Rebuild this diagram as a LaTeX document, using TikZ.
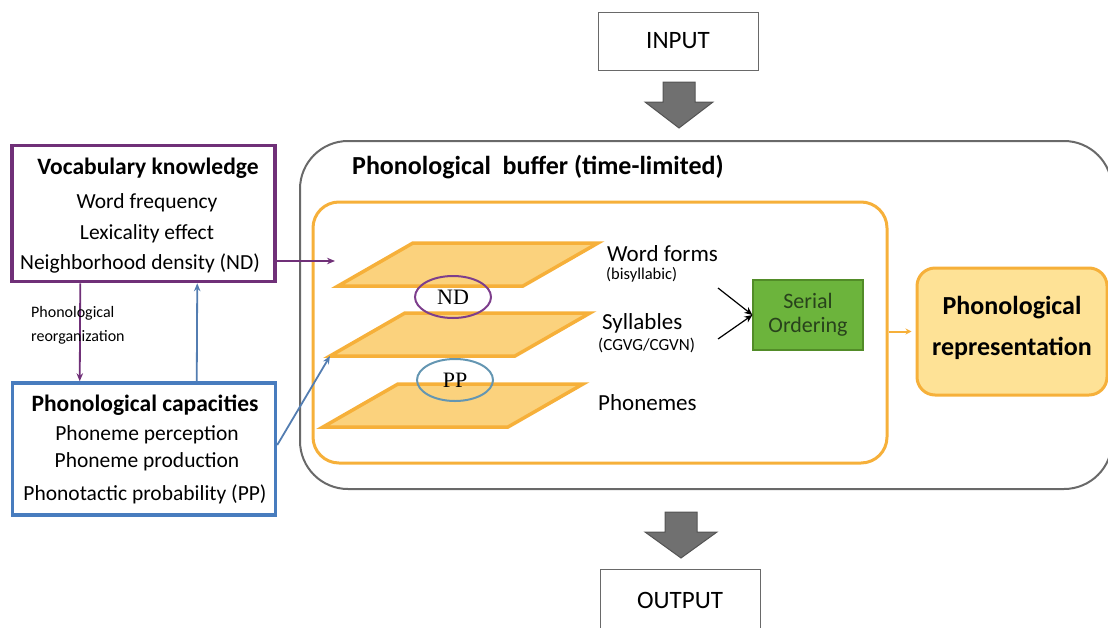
\documentclass[tikz,border=0pt]{standalone}
\usepackage{fontspec}
\setmainfont{Carlito}
\newfontfamily\romanfont{Liberation Serif}
\usepackage{tikz}
\usetikzlibrary{
	arrows.meta, shapes.geometric, positioning, calc
}
\definecolor{vocpurple}  {RGB}{112,  48, 120}
\definecolor{capblue}    {RGB}{ 72, 124, 190}
\definecolor{bufgray}    {RGB}{105, 105, 105}
\definecolor{arrowgray}  {RGB}{112, 112, 112}
\definecolor{layorange}  {RGB}{246, 176,  58}
\definecolor{layfill}    {RGB}{251, 210, 125}
\definecolor{repfill}    {RGB}{254, 226, 150}
\definecolor{serfill}    {RGB}{108, 180,  60}
\definecolor{serdraw}    {RGB}{ 82, 140,  40}
\definecolor{sertext}    {RGB}{ 40,  66,  28}
\definecolor{ndpurple}   {RGB}{125,  62, 140}
\definecolor{ppblue}     {RGB}{100, 150, 178}

\tikzset{
	txt/.style={font=\fontsize{21.5}{26}\selectfont},
	hdr/.style={font=\fontsize{23.5}{28}\selectfont\bfseries},
	tiny/.style={font=\fontsize{16}{24}\selectfont},
	sidebox/.style={draw=#1, line width=3.5pt, minimum width=263, minimum height=136},
	iobox/.style={draw=bufgray, line width=1pt, minimum width=160, minimum height=58, font=\fontsize{25}{30}\selectfont},
	layer/.style={draw=layorange, fill=layfill, line width=3.5pt},
	blockarrow/.style={draw=bufgray!80!black, fill=arrowgray, line width=1pt},
	link/.style={line width=1.8pt, -{Stealth[length=8pt,width=6.5pt]}},
	tag/.style={ellipse, draw=#1, line width=2pt, minimum width=76, minimum height=42, inner sep=0pt,
		font=\fontsize{22}{24}\romanfont}
}

\begin{document}
\begin{tikzpicture}[x=1pt,y=-1pt]
	\useasboundingbox (0,0) rectangle (1108,627);

	\node[iobox] (input) at (678,41) {INPUT};
	\draw[blockarrow] (663,82) -- (695,82) -- (695,102) -- (713,102) -- (679,128) -- (645,102) -- (663,102) -- cycle;

	\node[draw=bufgray, line width=2pt, rounded corners=48, minimum width=812, minimum height=348] (buffer) at (706,315) {};
	\node[font=\fontsize{26}{30}\selectfont\bfseries, anchor=west, inner sep=0pt] (buftitle) at (352,167) {Phonological\ \ buffer (time-limited)};
	\node[draw=layorange, line width=3pt, rounded corners=26, minimum width=574, minimum height=261] (layers) at (600,332.5) {};

	\foreach \n/\bx/\ty in {1/338/243, 2/330/313, 3/323/384}{
		\coordinate (L\n) at (\bx,\ty+43);
		\draw[layer] (L\n) -- ++(75,-43) -- ++(185,0) -- ++(-75,43) -- cycle;
	}
	\node[tag=ndpurple] (nd) at (453,297) {ND};
	\node[tag=ppblue] (pp) at (455,380) {PP};

	\node[font=\fontsize{23}{26}\selectfont, anchor=west, inner sep=0pt] (wf) at (607,254) {Word forms};
	\node[font=\fontsize{16.5}{18}\selectfont, anchor=west, inner sep=0pt] (wfsub) at (606,275) {(bisyllabic)};
	\node[font=\fontsize{23}{26}\selectfont, anchor=west, inner sep=0pt] (syl) at (602,323) {Syllables};
	\node[font=\fontsize{17}{19}\selectfont, anchor=west, inner sep=0pt] (sylsub) at (598,345) {(CGVG/CGVN)};
	\node[font=\fontsize{23}{26}\selectfont, anchor=west, inner sep=0pt] (phon) at (598,403) {Phonemes};

	\node[draw=serdraw, fill=serfill, line width=1.2pt, minimum width=110, minimum height=70, align=center,
		text=sertext, font=\fontsize{22}{24}\selectfont] (ser) at (808,315) {Serial\\Ordering};
	\coordinate (wfout) at (718,288);
	\coordinate (sylout) at (718,339);
	\draw[-{Stealth[length=8pt,width=7pt]}, line width=1.2pt] (wfout) -- (ser.west);
	\draw[-{Stealth[length=8pt,width=7pt]}, line width=1.2pt] (sylout) -- (ser.west);

	\node[draw=layorange, fill=repfill, line width=3pt, rounded corners=18, minimum width=190, minimum height=127,
		align=center, font=\fontsize{26}{41}\selectfont\bfseries, text depth=12pt] (rep) at (1012,331.5) {Phonological\\representation};
	\draw[layorange, line width=2pt, -{Stealth[length=6pt,width=6pt]}, shorten >=4pt] (layers.east |- rep.west) -- (rep.west);

	\node[sidebox=vocpurple] (voc) at (143.5,213.5) {};
	\node[hdr] (voct) at (148,168) {Vocabulary knowledge};
	\node[txt] (voc1) at (147,203) {Word frequency};
	\node[txt] (voc2) at (147,234) {Lexicality effect};
	\node[txt] (voc3) at (140,263) {Neighborhood density (ND)};

	\node[sidebox=capblue, minimum height=132] (cap) at (144,449) {};
	\node[hdr] (capt) at (145,405) {Phonological capacities};
	\node[txt] (cap1) at (147,435) {Phoneme perception};
	\node[txt] (cap2) at (147,462) {Phoneme production};
	\node[txt] (cap3) at (145,494) {Phonotactic probability (PP)};

	\coordinate (wfin) at (335,261);
	\draw[link, vocpurple] ([yshift=-47.5]voc.east) -- (wfin);
	\draw[link, vocpurple] ([xshift=70]voc.south west) -- ([xshift=69]cap.north west);
	\node[tiny, anchor=west, align=left, inner sep=0pt] (reorg) at (31,325) {Phonological\\reorganization};
	\draw[link, capblue!80!gray] ([xshift=186]cap.north west) -- ([xshift=187]voc.south west);
	\draw[link, capblue!80!gray] ([yshift=4]cap.east) -- (L2);

	\draw[blockarrow] (665,512) -- (697,512) -- (697,532) -- (717,532) -- (681,558) -- (645,532) -- (665,532) -- cycle;
	\node[iobox, minimum height=62] (output) at (680,600) {OUTPUT};
\end{tikzpicture}
\end{document}
